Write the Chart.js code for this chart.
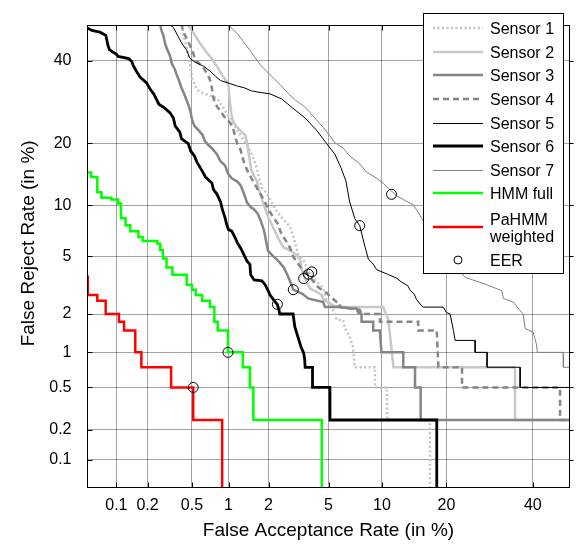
<!DOCTYPE html>
<html>
<head>
<meta charset="utf-8">
<script src="https://cdn.jsdelivr.net/npm/chart.js@4.4.1/dist/chart.umd.min.js"></script>
<style>
  html, body { margin: 0; padding: 0; background: #fff; }
</style>
</head>
<body>
<canvas id="det" width="579" height="544"></canvas>
<script>
// DET curves, values in % (FAR, FRR)
const farTicks = [0.1, 0.2, 0.5, 1, 2, 5, 10, 20, 40];
const frrTicks = [0.1, 0.2, 0.5, 1, 2, 5, 10, 20, 40];

const sensor1 = [[0.407,50.1],[0.424,47.1],[0.443,44.4],[0.466,41.2],[0.489,37.9],[0.503,35.3],[0.532,33.3],[0.567,32.1],[0.626,31.4],[0.708,30.8],[0.81,30.1],[0.89,28.3],[0.957,26.75],[1.03,25.4],[1.09,24.1],[1.17,22.9],[1.24,21.7],[1.35,20.2],[1.44,19.0],[1.54,17.4],[1.63,15.7],[1.71,13.8],[1.8,12.3],[1.94,11.65],[2.05,10.8],[2.17,9.95],[2.3,9.2],[2.5,8.5],[2.7,7.95],[2.84,7.45],[2.96,6.7],[3.09,5.85],[3.2,5.2],[3.38,4.9],[3.56,4.55],[3.65,4.1],[3.83,3.9],[4.0,3.65],[4.22,3.4],[4.55,3.15],[4.65,3.0],[4.75,2.75],[4.86,2.5],[5.22,2.25],[5.47,2.0],[5.6,1.8],[6.11,1.8],[6.26,1.55],[6.65,1.35],[6.97,1.1],[7.13,0.75],[9.2,0.75],[9.2,0.5],[10.6,0.5],[10.65,0.25],[17.0,0.25],[17.0,0.01]];
const sensor2 = [[0.445,50.7],[0.489,48.95],[0.532,47.1],[0.59,44.7],[0.668,42.2],[0.708,41.3],[0.81,38.4],[0.893,36.05],[0.97,34.3],[1.0,33.3],[1.02,29.7],[1.05,26.6],[1.08,24.9],[1.14,23.7],[1.25,22.5],[1.35,21.7],[1.4,19.7],[1.44,17.6],[1.5,15.0],[1.65,13.3],[1.7,12.1],[1.79,10.8],[1.89,9.6],[1.99,8.6],[2.11,7.8],[2.3,6.7],[2.43,6.1],[2.56,5.7],[2.83,5.45],[3.13,5.1],[3.3,4.75],[3.39,4.1],[3.48,3.75],[3.83,3.05],[4.22,2.9],[4.54,2.75],[4.65,2.55],[4.97,2.45],[5.34,2.3],[6.1,2.25],[10.15,2.25],[10.5,2.0],[10.8,1.8],[11.25,1.0],[11.45,0.75],[35.4,0.75],[35.4,0.25],[55,0.25]];
const sensor3 = [[0.258,51],[0.269,48.5],[0.28,47.1],[0.29,44.9],[0.299,43.6],[0.322,41.3],[0.334,39.15],[0.352,37.9],[0.37,36.1],[0.393,34.05],[0.406,32.8],[0.429,31.2],[0.451,29.6],[0.471,28.2],[0.489,26.6],[0.501,25.1],[0.524,23.7],[0.571,22.7],[0.617,21.7],[0.64,20.6],[0.686,19.7],[0.734,19.1],[0.81,17.9],[0.86,16.7],[0.94,15.9],[0.99,14.55],[1.06,13.8],[1.17,13.3],[1.24,12.75],[1.31,11.65],[1.39,10.35],[1.48,9.8],[1.57,9.5],[1.67,9.0],[1.77,8.1],[1.86,7.15],[1.92,6.25],[1.98,5.45],[2.12,5.1],[2.36,4.65],[2.56,4.25],[2.72,3.75],[2.87,3.3],[2.97,3.0],[3.2,2.9],[3.43,2.8],[3.72,2.6],[4.0,2.55],[4.63,2.45],[4.75,2.25],[5.85,2.25],[6.83,2.2],[7.3,2.2],[7.45,2.05],[7.78,2.0],[7.78,1.75],[9.0,1.75],[9.0,1.5],[9.75,1.5],[9.95,1.0],[12.8,1.0],[12.8,0.75],[14.55,0.75],[14.55,0.5],[15.45,0.5],[15.45,0.25],[55,0.25]];
const sensor4 = [[0.406,50.4],[0.42,48.2],[0.465,45.3],[0.513,42.2],[0.532,40.2],[0.571,39.4],[0.63,37.9],[0.668,36.6],[0.708,34.9],[0.734,32.8],[0.758,30.0],[0.81,28.1],[0.89,26.5],[0.94,25.45],[1.03,24.4],[1.09,23.0],[1.13,21.3],[1.17,20.0],[1.24,18.8],[1.28,17.4],[1.33,16.2],[1.43,14.55],[1.55,13.3],[1.7,11.85],[1.79,11.2],[1.89,10.35],[1.99,9.6],[2.11,8.85],[2.23,8.3],[2.35,7.8],[2.42,7.15],[2.56,6.55],[2.7,6.1],[2.83,5.65],[2.96,5.0],[3.13,4.65],[3.3,4.3],[3.48,4.0],[3.74,3.8],[4.0,3.45],[4.22,3.2],[4.43,3.05],[4.86,2.85],[5.09,2.7],[5.6,2.45],[5.85,2.4],[5.85,2.25],[6.84,2.2],[7.6,2.15],[7.78,2.0],[9.77,2.0],[9.77,1.75],[15.05,1.75],[15.05,1.5],[18.2,1.5],[18.5,0.75],[23.1,0.75],[23.1,0.5],[47.3,0.5],[47.3,0.25],[55,0.25]];
const sensor5 = [[0.308,50.6],[0.345,49.3],[0.38,46.8],[0.406,45.0],[0.451,42.9],[0.48,40.7],[0.532,39.6],[0.628,38.5],[0.708,37.2],[0.786,35.8],[0.865,34.65],[0.993,34.05],[1.17,33.25],[1.32,32.8],[1.5,32.0],[1.74,31.6],[2.05,31.25],[2.47,30.0],[2.96,27.7],[3.56,25.45],[4.22,22.7],[4.86,20.0],[5.47,17.9],[5.92,15.6],[6.34,13.4],[6.65,10.55],[7.13,8.45],[7.6,7.7],[8.11,5.8],[8.48,4.8],[8.9,4.55],[9.4,4.1],[10.6,3.85],[11.9,3.6],[12.5,3.4],[13.45,3.2],[13.85,2.95],[14.4,2.8],[14.8,2.55],[15.6,2.3],[15.9,2.25],[19.4,2.25],[20.0,2.05],[20.7,2.0],[21.35,1.5],[21.7,1.25],[25.9,1.25],[25.9,1.0],[28.6,1.0],[28.6,0.75],[36.7,0.75],[36.7,0.5],[55,0.5]];
const sensor6 = [[0.046,55],[0.048,49.5],[0.0562,48.5],[0.068,48.0],[0.0784,47.1],[0.082,44.4],[0.085,43.1],[0.1,41.8],[0.104,41.2],[0.132,40.6],[0.142,39.7],[0.146,38.7],[0.158,37.0],[0.171,35.5],[0.196,34.05],[0.212,32.4],[0.229,31.2],[0.241,30.0],[0.255,28.7],[0.29,27.7],[0.322,26.6],[0.345,25.45],[0.357,23.7],[0.393,22.35],[0.406,21.0],[0.465,20.0],[0.489,18.5],[0.524,17.65],[0.552,16.5],[0.61,15.0],[0.648,14.06],[0.734,13.1],[0.758,12.1],[0.81,11.45],[0.865,10.4],[0.89,9.6],[0.94,8.5],[0.967,7.8],[1.0,7.3],[1.06,7.15],[1.12,6.6],[1.17,6.1],[1.25,5.6],[1.32,5.1],[1.39,4.66],[1.46,4.45],[1.48,3.8],[1.57,3.5],[1.79,3.45],[1.89,3.25],[1.97,3.0],[2.05,2.75],[2.2,2.5],[2.31,2.35],[2.37,2.15],[2.4,2.0],[2.96,2.0],[3.04,1.6],[3.21,1.3],[3.35,1.1],[3.47,1.0],[3.53,0.89],[3.56,0.75],[3.97,0.75],[3.97,0.5],[5.09,0.5],[5.1,0.25],[18.2,0.25],[18.2,0.01]];
const sensor7 = [[0.956,50.6],[1.17,47.6],[1.28,45.7],[1.5,42.3],[1.74,38.9],[2.05,36.2],[2.43,33.5],[2.77,31.2],[3.13,29.45],[3.48,28.3],[3.83,26.7],[4.22,24.95],[4.65,23.3],[5.09,21.55],[5.47,20.15],[6.11,19.1],[6.65,17.65],[7.6,16.2],[8.29,14.8],[9.2,14.0],[10.15,13.05],[11.0,12.1],[11.87,11.25],[13.3,10.5],[14.3,10.1],[14.8,9.45],[15.6,8.5],[18.8,5.5],[23.75,3.65],[28.5,3.25],[32.1,2.95],[32.5,2.6],[34.95,2.45],[37.1,2.05],[37.5,2.0],[38.0,1.55],[40.1,1.45],[41.0,1.15],[41.2,1.0],[48.2,1.0],[48.2,0.75],[55,0.75]];
// step curves: each point is where the curve drops
const hmmFull = [[0.049,14.75],[0.0552,14.0],[0.064,11.75],[0.0706,11.0],[0.0888,10.75],[0.104,10.25],[0.111,8.5],[0.123,7.75],[0.137,7.15],[0.164,6.6],[0.18,6.25],[0.247,6.0],[0.262,5.5],[0.277,4.85],[0.299,4.25],[0.338,3.8],[0.451,3.25],[0.5,3.0],[0.54,2.75],[0.61,2.5],[0.708,2.25],[0.77,1.75],[0.82,1.5],[0.99,1.0],[1.29,0.75],[1.46,0.5],[1.55,0.25],[4.54,0.01]];
const paHmmWeighted = [[0.051,3.75],[0.051,2.75],[0.064,2.5],[0.078,2.0],[0.106,1.75],[0.119,1.5],[0.153,1.0],[0.175,0.75],[0.329,0.5],[0.513,0.25],[0.89,0.01]];
const eerFar = [0.513, 0.99, 2.31, 2.97, 3.48, 3.74, 3.93, 7.6, 11.2];
const eerFrr = [0.5, 1.0, 2.36, 3.0, 3.58, 3.83, 3.97, 7.7, 11.45];

const FONT = '"Liberation Sans", Arial, sans-serif';
Chart.defaults.font.family = FONT;
Chart.defaults.color = '#000';

// inverse of the standard normal cdf (Acklam)
function probit(p) {
  const a = [-3.969683028665376e+01, 2.209460984245205e+02, -2.759285104469687e+02, 1.383577518672690e+02, -3.066479806614716e+01, 2.506628277459239e+00];
  const b = [-5.447609879822406e+01, 1.615858368580409e+02, -1.556989798598866e+02, 6.680131188771972e+01, -1.328068155288572e+01];
  const c = [-7.784894002430293e-03, -3.223964580411365e-01, -2.400758277161838e+00, -2.549732539343734e+00, 4.374664141464968e+00, 2.938163982698783e+00];
  const d = [7.784695709041462e-03, 3.224671290700398e-01, 2.445134137142996e+00, 3.754408661907416e+00];
  const plow = 0.02425;
  let q, r;
  if (p < plow) {
    q = Math.sqrt(-2 * Math.log(p));
    return (((((c[0]*q+c[1])*q+c[2])*q+c[3])*q+c[4])*q+c[5]) / ((((d[0]*q+d[1])*q+d[2])*q+d[3])*q+1);
  }
  if (p <= 1 - plow) {
    q = p - 0.5; r = q * q;
    return (((((a[0]*r+a[1])*r+a[2])*r+a[3])*r+a[4])*r+a[5])*q / (((((b[0]*r+b[1])*r+b[2])*r+b[3])*r+b[4])*r+1);
  }
  q = Math.sqrt(-2 * Math.log(1 - p));
  return -(((((c[0]*q+c[1])*q+c[2])*q+c[3])*q+c[4])*q+c[5]) / ((((d[0]*q+d[1])*q+d[2])*q+d[3])*q+1);
}

function normCdf(z) {
  const t = 1 / (1 + 0.3275911 * Math.abs(z) / Math.SQRT2);
  const y = 1 - (((((1.061405429*t - 1.453152027)*t) + 1.421413741)*t - 0.284496736)*t + 0.254829592) * t * Math.exp(-z*z/2);
  return z >= 0 ? (1 + y) / 2 : (1 - y) / 2;
}

// normal deviate (probit) scale, values given in percent
class ProbitScale extends Chart.Scale {
  determineDataLimits() {
    this.min = this.options.min;
    this.max = this.options.max;
  }
  buildTicks() {
    const vals = this.axis === 'x' ? farTicks : frrTicks;
    return vals.map(v => ({ value: v }));
  }
  configure() {
    super.configure();
    this._lo = probit(this.min / 100);
    this._span = probit(this.max / 100) - this._lo;
  }
  getLabelForValue(v) {
    return String(v);
  }
  getPixelForValue(v) {
    if (v === null || v === undefined || isNaN(v)) return NaN;
    const p = Math.min(Math.max(v / 100, 1e-7), 1 - 1e-7);
    return this.getPixelForDecimal((probit(p) - this._lo) / this._span);
  }
  getValueForPixel(px) {
    return normCdf(this._lo + this.getDecimalForPixel(px) * this._span) * 100;
  }
}
ProbitScale.id = 'probit';
ProbitScale.defaults = {};
Chart.register(ProbitScale);

const toPoints = arr => arr.map(([x, y]) => ({ x, y }));

// frame and MATLAB-like ticks on all four sides
const axesFrame = {
  id: 'axesFrame',
  afterDatasetsDraw(chart) {
    const { ctx, chartArea: a, scales } = chart;
    const L = Math.round(a.left) + 0.5, R = Math.round(a.right) - 0.5;
    const T = Math.round(a.top) + 0.5, B = Math.round(a.bottom) - 0.5;
    ctx.save();
    ctx.strokeStyle = '#000';
    ctx.lineWidth = 1;
    ctx.strokeRect(L, T, R - L, B - T);
    ctx.beginPath();
    farTicks.forEach(v => {
      const px = Math.round(scales.x.getPixelForValue(v)) + 0.5;
      ctx.moveTo(px, B); ctx.lineTo(px, B - 5);
      ctx.moveTo(px, T); ctx.lineTo(px, T + 5);
    });
    frrTicks.forEach(v => {
      const py = Math.round(scales.y.getPixelForValue(v)) + 0.5;
      ctx.moveTo(L, py); ctx.lineTo(L + 5, py);
      ctx.moveTo(R, py); ctx.lineTo(R + 4, py);
    });
    ctx.stroke();
    ctx.restore();
  }
};

// boxed legend in the upper right corner
const boxLegend = {
  id: 'boxLegend',
  afterDraw(chart) {
    const ctx = chart.ctx;
    const sets = chart.data.datasets;
    const rowY = [28, 52, 75, 99, 123, 146, 170, 193, 227, 260];
    ctx.save();
    ctx.fillStyle = '#fff';
    ctx.fillRect(423, 13, 140, 260);
    ctx.strokeStyle = '#000';
    ctx.lineWidth = 1;
    ctx.strokeRect(423.5, 13.5, 140, 260);
    ctx.font = '16px ' + FONT;
    ctx.textBaseline = 'middle';
    ctx.textAlign = 'left';
    sets.forEach((ds, i) => {
      const y = rowY[i];
      if (ds.showLine === false) {
        ctx.setLineDash([]);
        ctx.lineWidth = 1;
        ctx.strokeStyle = '#000';
        ctx.beginPath();
        ctx.arc(458, y, 4, 0, Math.PI * 2);
        ctx.stroke();
      } else {
        const ly = ds.borderWidth <= 1 ? y + 0.5 : y;
        ctx.setLineDash(ds.borderDash || []);
        ctx.lineWidth = ds.borderWidth;
        ctx.strokeStyle = ds.borderColor;
        ctx.beginPath();
        ctx.moveTo(433, ly);
        ctx.lineTo(483, ly);
        ctx.stroke();
      }
      ctx.fillStyle = '#000';
      const lines = ds.label.split('\n');
      if (lines.length === 1) {
        ctx.fillText(lines[0], 490, y + 1.5);
      } else {
        ctx.fillText(lines[0], 490, y - 6.5);
        ctx.fillText(lines[1], 490, y + 10.5);
      }
    });
    ctx.restore();
  }
};

const curves = [
  { label: 'Sensor 1', data: sensor1, color: '#c3c3c3', width: 2.5, dash: [2, 2.5] },
  { label: 'Sensor 2', data: sensor2, color: '#c8c8c8', width: 2.5 },
  { label: 'Sensor 3', data: sensor3, color: '#858585', width: 2.5 },
  { label: 'Sensor 4', data: sensor4, color: '#858585', width: 2.5, dash: [6, 4] },
  { label: 'Sensor 5', data: sensor5, color: '#000000', width: 1 },
  { label: 'Sensor 6', data: sensor6, color: '#000000', width: 2.8 },
  { label: 'Sensor 7', data: sensor7, color: '#808080', width: 1 },
  { label: 'HMM full', data: hmmFull, color: '#00ff00', width: 2.5, stepped: true },
  { label: 'PaHMM\nweighted', data: paHmmWeighted, color: '#ff0000', width: 2.5, stepped: true }
];

const datasets = curves.map((c, i) => ({
  label: c.label,
  data: toPoints(c.data),
  borderColor: c.color,
  borderWidth: c.width,
  borderDash: c.dash || [],
  stepped: c.stepped || false,
  pointRadius: 0,
  tension: 0,
  fill: false,
  order: 20 - i
}));
datasets.push({
  label: 'EER',
  data: eerFar.map((x, i) => ({ x, y: eerFrr[i] })),
  showLine: false,
  pointStyle: 'circle',
  pointRadius: 5,
  pointBorderColor: '#000',
  pointBackgroundColor: 'rgba(0,0,0,0)',
  pointBorderWidth: 1,
  order: 0
});

const gridColor = 'rgba(0,0,0,0.36)';

new Chart(document.getElementById('det'), {
  type: 'line',
  data: { datasets },
  options: {
    responsive: false,
    devicePixelRatio: 1,
    animation: false,
    layout: { padding: { top: 4, right: 9, bottom: 0, left: 0 } },
    plugins: {
      legend: { display: false },
      tooltip: { enabled: false }
    },
    scales: {
      x: {
        type: 'probit',
        position: 'bottom',
        min: 0.05,
        max: 50,
        afterFit: s => { s.height = 56; },
        grid: { color: gridColor, lineWidth: 1, drawTicks: false },
        border: { display: false },
        ticks: { padding: 8, autoSkip: false, maxRotation: 0, font: { size: 16 }, callback: v => String(v) },
        title: { display: true, text: 'False Acceptance Rate (in %)', font: { size: 19 }, padding: { top: 0, bottom: 2 } }
      },
      y: {
        type: 'probit',
        position: 'left',
        min: 0.05,
        max: 50,
        afterFit: s => { s.width = 87; },
        grid: { color: gridColor, lineWidth: 1, drawTicks: false },
        border: { display: false },
        ticks: { padding: 15.5, autoSkip: false, font: { size: 16 }, callback: v => String(v) },
        // leading spaces lift the label a little above the axis middle, as in the original
        title: { display: true, text: '     False Reject Rate (in %)', font: { size: 19 }, padding: { top: 17, bottom: 0 } }
      }
    }
  },
  plugins: [axesFrame, boxLegend]
});
</script>
</body>
</html>
